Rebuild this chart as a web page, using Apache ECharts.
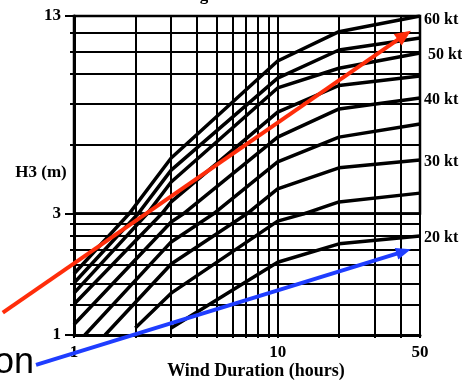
<!DOCTYPE html>
<html>
<head>
<meta charset="utf-8">
<title>H3 vs Wind Duration</title>
<script src="https://cdn.jsdelivr.net/npm/echarts@6/dist/echarts.min.js"></script>
<style>
  html, body { margin: 0; padding: 0; background: #fff; }
  #main { width: 462px; height: 382px; }
</style>
</head>
<body>
<div id="main"></div>
<script>
// [wind duration (hours), H3 (m)], one curve per wind speed
var kt60 = [[1, 1.74], [3, 4.53], [10, 9.31], [20, 11.57], [50, 13]];
var kt55 = [[1, 1.60], [3, 4.14], [10, 8.20], [20, 10.1], [50, 11.04]];
var kt50 = [[1, 1.46], [3, 3.79], [10, 7.62], [20, 8.82], [50, 9.88]];
var kt45 = [[1, 1.32], [3, 3.27], [10, 6.37], [20, 7.76], [50, 8.33]];
var kt40 = [[1, 1.10], [3, 2.78], [10, 5.29], [20, 6.52], [50, 7.07]];
var kt35 = [[1.13, 1], [3, 2.32], [10, 4.40], [20, 5.29], [50, 5.83]];
var kt30 = [[1.42, 1], [3, 1.90], [10, 3.60], [20, 4.21], [50, 4.46]];
var kt25 = [[2, 1.065], [3, 1.46], [10, 2.80], [20, 3.27], [50, 3.49]];
var kt20 = [[3, 1.065], [10, 1.93], [20, 2.28], [50, 2.45]];

var curveNames = ['60 kt', '55 kt', '50 kt', '45 kt', '40 kt', '35 kt', '30 kt', '25 kt', '20 kt'];
var curves = [kt60, kt55, kt50, kt45, kt40, kt35, kt30, kt25, kt20];
// which curves carry a label at their right end
var labelled = ['60 kt', '50 kt', '40 kt', '30 kt', '20 kt'];

// grid lines and tick labels
var xGrid = [1, 2, 3, 4, 5, 6, 7, 8, 9, 10, 20, 30, 40, 50];
var xLabels = [1, 10, 50];
var yGridLow = [1, 1.31, 1.59, 1.89, 2.16, 2.46, 2.74, 3];
var yGridHigh = [3, 5, 6.8, 8.45, 10, 11.5, 13];
var yLabelsLow = [1, 3];
var yLabelsHigh = [13];

// overlay arrows, [start, end] as (hours, m)
var redArrow = [[0.447, 1.224], [45.1, 11.66]];
var blueArrow = [[0.651, 0.763], [45.1, 2.17]];

var serif = '"Liberation Serif", "DejaVu Serif", serif';
var chart = echarts.init(document.getElementById('main'));

// the original scale is stretched differently above and below 3 m,
// so it is drawn as two stacked log grids
var grids = [
  { left: 74, right: 42, top: 213.5, height: 121.5, show: true, borderColor: '#000', borderWidth: 2 },
  { left: 74, right: 42, top: 16, height: 197.5, show: true, borderColor: '#000', borderWidth: 2.5 }
];

function xAxis(gi, withLabels) {
  return {
    type: 'log', logBase: 10, min: 1, max: 50, gridIndex: gi, position: 'bottom',
    axisLine: { show: withLabels, lineStyle: { color: '#000', width: 3 } },
    axisTick: { show: withLabels, customValues: xGrid, length: 3, lineStyle: { color: '#000', width: 2 } },
    axisLabel: { show: withLabels, customValues: xLabels, margin: 9, color: '#000',
      fontFamily: serif, fontWeight: 'bold', fontSize: 17 },
    splitLine: { show: true, lineStyle: { color: '#000', width: 2 } }
  };
}

function yMain(gi, lo, hi, ticks) {
  return {
    type: 'log', logBase: 10, min: lo, max: hi, gridIndex: gi, position: 'left',
    axisLine: { show: true, lineStyle: { color: '#000', width: 3 } },
    axisTick: { show: true, customValues: ticks, length: 4, lineStyle: { color: '#000', width: 2 } },
    axisLabel: { show: false },
    splitLine: { show: true, lineStyle: { color: '#000', width: 2 } }
  };
}

function yLab(gi, lo, hi, labels) {
  return {
    type: 'log', logBase: 10, min: lo, max: hi, gridIndex: gi, position: 'left', offset: 0,
    axisLine: { show: false },
    axisTick: { show: true, customValues: labels, length: 9, lineStyle: { color: '#000', width: 2 } },
    axisLabel: { show: true, customValues: labels, margin: 13, color: '#000',
      fontFamily: serif, fontWeight: 'bold', fontSize: 17 },
    splitLine: { show: false }
  };
}

var series = [];
curves.forEach(function (data, i) {
  var name = curveNames[i];
  var endLab = labelled.indexOf(name) >= 0;
  var top = name !== '20 kt';
  var lineStyle = { color: '#000', width: 3.5 };
  var label = {
    show: true, formatter: '{a}', distance: name === '50 kt' ? 8 : 4,
    offset: [0, name === '60 kt' ? 4 : 2],
    color: '#000', fontFamily: serif, fontWeight: 'bold', fontSize: 16
  };
  series.push({
    name: name, type: 'line', xAxisIndex: 0, yAxisIndex: 0, data: data,
    showSymbol: false, lineStyle: lineStyle, clip: true, silent: true,
    endLabel: endLab && !top ? label : { show: false }
  });
  series.push({
    name: name, type: 'line', xAxisIndex: 1, yAxisIndex: 2, data: data,
    showSymbol: false, lineStyle: lineStyle, clip: true, silent: true,
    endLabel: endLab && top ? label : { show: false }
  });
});

chart.setOption({
  animation: false,
  backgroundColor: '#fff',
  grid: grids,
  xAxis: [xAxis(0, true), xAxis(1, false)],
  yAxis: [
    yMain(0, 1, 3, yGridLow), yLab(0, 1, 3, yLabelsLow),
    yMain(1, 3, 13, yGridHigh), yLab(1, 3, 13, yLabelsHigh)
  ],
  series: series
});

function toPx(p) {
  return chart.convertToPixel({ gridIndex: p[1] >= 3 ? 1 : 0 }, p);
}

function arrow(pts, color, headLen, headW) {
  var a = toPx(pts[0]), b = toPx(pts[1]);
  var dx = b[0] - a[0], dy = b[1] - a[1];
  var len = Math.sqrt(dx * dx + dy * dy);
  var ux = dx / len, uy = dy / len;
  var bx = b[0] - ux * headLen, by = b[1] - uy * headLen;
  var nx = -uy * headW / 2, ny = ux * headW / 2;
  return [
    { type: 'line', z: 100, shape: { x1: a[0], y1: a[1], x2: bx + ux * 2, y2: by + uy * 2 },
      style: { stroke: color, lineWidth: 4 } },
    { type: 'polygon', z: 100, shape: { points: [[b[0], b[1]], [bx + nx, by + ny], [bx - nx, by - ny]] },
      style: { fill: color } }
  ];
}

var graphic = [
  { type: 'text', x: 41, y: 173, style: { text: 'H3 (m)', font: 'bold 17px ' + serif,
    fill: '#000', align: 'center', verticalAlign: 'middle' } },
  { type: 'text', x: 256, y: 371, style: { text: 'Wind Duration (hours)', font: 'bold 18px ' + serif,
    fill: '#000', align: 'center', verticalAlign: 'middle' } },
  { type: 'text', x: 205, y: -4, style: { text: 'Fig. 8', font: 'bold 17px ' + serif,
    fill: '#000', align: 'center', verticalAlign: 'middle' } },
  { type: 'text', x: -6, y: 363, style: { text: 'on', font: '36px "Liberation Sans", Arial, sans-serif',
    fill: '#000', align: 'left', verticalAlign: 'middle' } }
].concat(arrow(redArrow, '#ff2d0a', 16, 14), arrow(blueArrow, '#1f3dff', 15, 12));

chart.setOption({ graphic: graphic });
</script>
</body>
</html>
